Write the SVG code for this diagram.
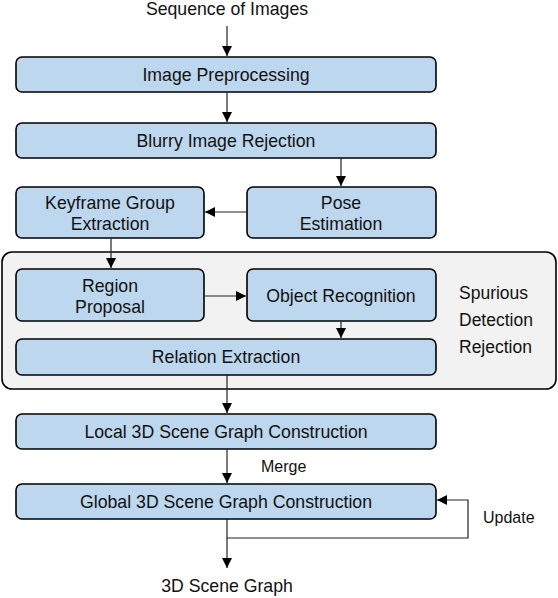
<svg xmlns="http://www.w3.org/2000/svg" width="558" height="598" viewBox="0 0 558 598">
<defs>
<marker id="ah" markerWidth="12" markerHeight="12" refX="10" refY="5.5" orient="auto" markerUnits="userSpaceOnUse">
<path d="M0,0.5 L10,5.5 L0,10.5 Z" fill="#000"/>
</marker>
</defs>
<style>
.box{fill:#bdd7ee;stroke:#000;stroke-width:1.6}
.cont{fill:#f2f2f2;stroke:#000;stroke-width:1.6}
.t{font-family:"Liberation Sans",Arial,sans-serif;font-size:17.7px;fill:#111;text-anchor:middle}
.tl{font-family:"Liberation Sans",Arial,sans-serif;font-size:17.5px;fill:#111}
.s{font-family:"Liberation Sans",Arial,sans-serif;font-size:16px;fill:#111}
.c{fill:none;stroke:#222;stroke-width:1.2}
</style>
<rect width="558" height="598" fill="#fff"/>
<g id="spurious-detection-rejection">
<rect class="cont" x="2" y="252" width="554" height="137" rx="10"/>
<text class="tl" x="459" y="299">Spurious</text>
<text class="tl" x="459" y="326">Detection</text>
<text class="tl" x="459" y="353">Rejection</text>
</g>
<g id="input"><text class="t" x="227" y="15">Sequence of Images</text></g>
<g id="image-preprocessing"><rect class="box" x="16" y="57" width="420" height="35" rx="6"/><text class="t" x="226" y="81">Image Preprocessing</text></g>
<g id="blurry-image-rejection"><rect class="box" x="16" y="123" width="420" height="35" rx="6"/><text class="t" x="226" y="147">Blurry Image Rejection</text></g>
<g id="keyframe-group-extraction"><rect class="box" x="16" y="187" width="188" height="51" rx="6"/><text class="t" x="110" y="209">Keyframe Group</text><text class="t" x="110" y="230">Extraction</text></g>
<g id="pose-estimation"><rect class="box" x="247" y="187" width="189" height="51" rx="6"/><text class="t" x="341" y="209">Pose</text><text class="t" x="341" y="230">Estimation</text></g>
<g id="region-proposal"><rect class="box" x="16" y="269" width="188" height="52" rx="6"/><text class="t" x="110" y="292">Region</text><text class="t" x="110" y="313">Proposal</text></g>
<g id="object-recognition"><rect class="box" x="247" y="269" width="189" height="52" rx="6"/><text class="t" x="341" y="302">Object Recognition</text></g>
<g id="relation-extraction"><rect class="box" x="16" y="339" width="420" height="36" rx="6"/><text class="t" x="226" y="363">Relation Extraction</text></g>
<g id="local-3d-scene-graph-construction"><rect class="box" x="16" y="414" width="420" height="35" rx="6"/><text class="t" x="226" y="438">Local 3D Scene Graph Construction</text></g>
<g id="global-3d-scene-graph-construction"><rect class="box" x="16" y="484" width="420" height="35" rx="6"/><text class="t" x="226" y="508">Global 3D Scene Graph Construction</text></g>
<g id="output"><text class="t" x="227" y="592">3D Scene Graph</text></g>
<g id="connectors">
<line class="c" x1="227" y1="26" x2="227" y2="56" marker-end="url(#ah)"/>
<line class="c" x1="227" y1="92" x2="227" y2="122" marker-end="url(#ah)"/>
<line class="c" x1="341" y1="158" x2="341" y2="186" marker-end="url(#ah)"/>
<line class="c" x1="247" y1="212" x2="205" y2="212" marker-end="url(#ah)"/>
<line class="c" x1="111" y1="238" x2="111" y2="268" marker-end="url(#ah)"/>
<line class="c" x1="204" y1="296" x2="246" y2="296" marker-end="url(#ah)"/>
<line class="c" x1="341" y1="321" x2="341" y2="338" marker-end="url(#ah)"/>
<line class="c" x1="227" y1="375" x2="227" y2="413" marker-end="url(#ah)"/>
<line class="c" x1="227" y1="449" x2="227" y2="483" marker-end="url(#ah)"/>
<text class="s" x="261" y="472">Merge</text>
<path class="c" d="M227,519 V538 H468 V500 H437" marker-end="url(#ah)"/>
<text class="s" x="483" y="523">Update</text>
<line class="c" x1="227" y1="538" x2="227" y2="568" marker-end="url(#ah)"/>
</g>
</svg>
